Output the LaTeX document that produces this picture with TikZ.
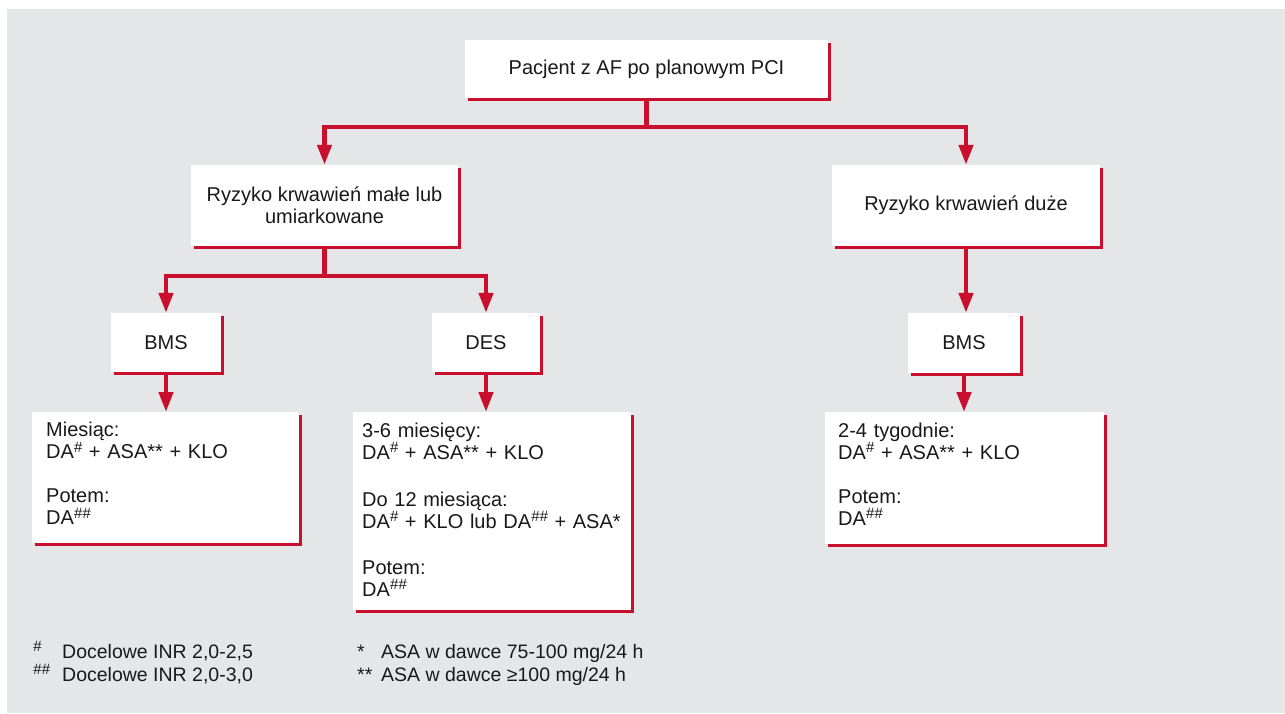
\documentclass[tikz,border=0pt]{standalone}
\usepackage{fontspec}
\setmainfont{Liberation Sans}
\usetikzlibrary{arrows.meta,shadows}
\definecolor{afred}{RGB}{200,16,46}
\definecolor{afgray}{RGB}{229,230,232}
\newcommand{\hs}{\raisebox{6.5pt}{\fontsize{15}{15}\selectfont\itshape\#}}
\newcommand{\hhs}{\raisebox{6.5pt}{\fontsize{15}{15}\selectfont\itshape\#\#}}
\tikzset{
  box/.style={fill=white, inner sep=0pt, align=center, text=black!90,
    font=\fontsize{20}{22}\selectfont,
    drop shadow={shadow xshift=3pt, shadow yshift=-3pt, opacity=1, fill=afred}},
  textbox/.style={box, align=left, anchor=north west},
  link/.style={afred, line width=4.5pt},
  conn/.style={link, -{Triangle[width=14pt,length=20pt]}},
  note/.style={anchor=base west, inner sep=0pt, text=black!90,
    font=\fontsize{19.5}{22}\selectfont}
}

\begin{document}
\begin{tikzpicture}[x=1pt, y=-1pt]
        \useasboundingbox (0,0) rectangle (1285,713);
        \fill[afgray] (7,9) rectangle (1285,713);
        % level 1
        \node[box, minimum width=363, minimum height=58] (start) at (646.5,69) {Pacjent z AF po planowym PCI};
        % level 2
        \node[box, minimum width=267, minimum height=81] (lowrisk) at (324.5,205.5) {Ryzyko krwawień małe lub\\umiarkowane};
        \node[box, minimum width=268, minimum height=81] (highrisk) at (966,205.5) {Ryzyko krwawień duże};
        % level 3
        \node[box, minimum width=110, minimum height=59] (bmsL) at (166,342.5) {BMS};
        \node[box, minimum width=108, minimum height=59] (des) at (486,342.5) {DES};
        \node[box, minimum width=112, minimum height=60] (bmsR) at (964,343) {BMS};
        % level 4
        \node[textbox, minimum width=267, minimum height=131, inner xsep=14, text width=239, text depth=96] (therL) at (32,412)
          {Miesiąc:\\DA\hs{} + ASA** + KLO\\[22pt]Potem:\\DA\hhs};
        \node[textbox, minimum width=278, minimum height=198, inner xsep=9, text width=260, text depth=162] (therD) at (353,412)
          {3-6 miesięcy:\\DA\hs{} + ASA** + KLO\\[25pt]Do 12 miesiąca:\\DA\hs{} + KLO lub DA\hhs{} + ASA*\\[24pt]Potem:\\DA\hhs};
        \node[textbox, minimum width=279, minimum height=132, inner xsep=13, text width=253, text depth=96] (therR) at (825,412)
          {2-4 tygodnie:\\DA\hs{} + ASA** + KLO\\[22pt]Potem:\\DA\hhs};
        % connectors
        \draw[conn] (start.south) -- ++(0,29) -| (lowrisk.north);
        \draw[conn] (start.south) -- ++(0,29) -| (highrisk.north);
        \draw[conn] (lowrisk.south) -- ++(0,30) -| (bmsL.north);
        \draw[conn] (lowrisk.south) -- ++(0,30) -| (des.north);
        \draw[conn] (highrisk.south) -- (highrisk.south |- bmsR.north);
        \draw[conn] (bmsL.south) -- (bmsL.south |- therL.north);
        \draw[conn] (des.south) -- (des.south |- therD.north);
        \draw[conn] (bmsR.south) -- (bmsR.south |- therR.north);
        % footnotes
        \node[note] (symA) at (33,658) {\hs};
        \node[note] (noteA) at (62,658) {Docelowe INR 2,0-2,5};
        \node[note] (symB) at (33,681) {\hhs};
        \node[note] (noteB) at (62,681) {Docelowe INR 2,0-3,0};
        \node[note] (symC) at (357,658) {*};
        \node[note] (noteC) at (381,658) {ASA w dawce 75-100 mg/24 h};
        \node[note] (symD) at (357,681) {**};
        \node[note] (noteD) at (381,681) {ASA w dawce ≥100 mg/24 h};
\end{tikzpicture}
\end{document}
